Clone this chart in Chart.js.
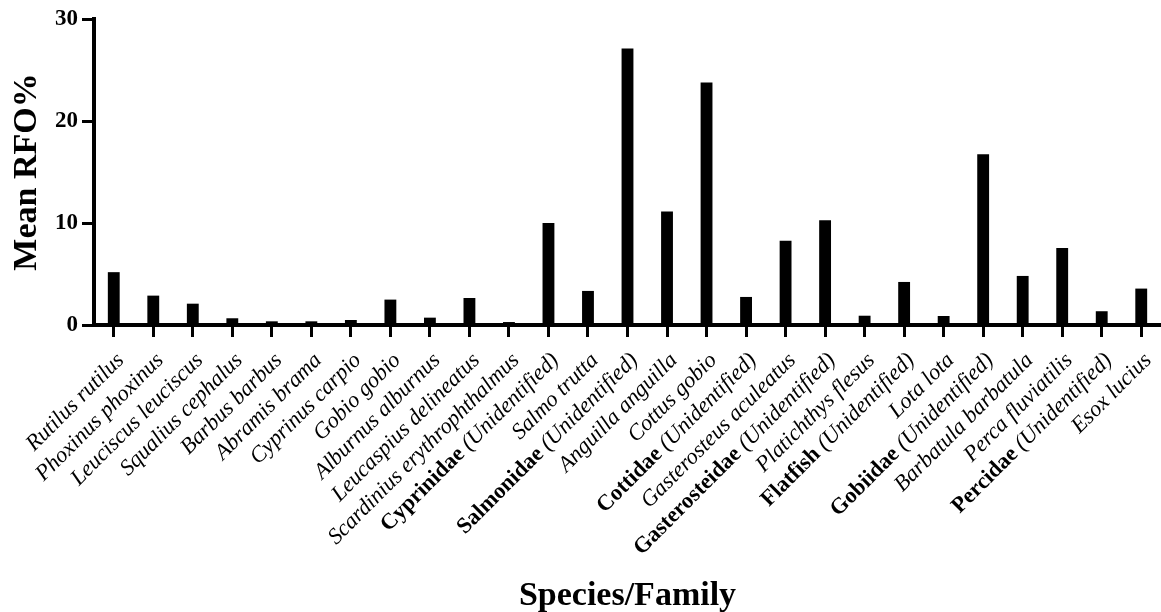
<!DOCTYPE html>
<html>
<head>
<meta charset="utf-8">
<script src="https://cdn.jsdelivr.net/npm/chart.js@4.4.1/dist/chart.umd.min.js"></script>
<style>
  html, body { margin: 0; padding: 0; background: #fff; }
  #wrap { width: 1161px; height: 612px; }
</style>
</head>
<body>
<div id="wrap"><canvas id="grafico" width="1161" height="612"></canvas></div>
<script>
// ========================= DADOS =========================
const categories = [
    'Rutilus rutilus', 'Phoxinus phoxinus', 'Leuciscus leuciscus', 'Squalius cephalus',
    'Barbus barbus', 'Abramis brama', 'Cyprinus carpio', 'Gobio gobio',
    'Alburnus alburnus', 'Leucaspius delineatus', 'Scardinius erythrophthalmus',
    'Cyprinidae (Unidentified)', 'Salmo trutta', 'Salmonidae (Unidentified)',
    'Anguilla anguilla', 'Cottus gobio', 'Cottidae (Unidentified)',
    'Gasterosteus aculeatus', 'Gasterosteidae (Unidentified)', 'Platichthys flesus',
    'Flatfish (Unidentified)', 'Lota lota', 'Gobiidae (Unidentified)',
    'Barbatula barbatula', 'Perca fluviatilis', 'Percidae (Unidentified)', 'Esox lucius'
];

const meanRFO = [
    5.18, 2.88, 2.09, 0.66, 0.36, 0.36, 0.49, 2.49,
    0.72, 2.65, 0.29, 9.99, 3.34, 27.1, 11.13, 23.77,
    2.75, 8.25, 10.28, 0.91, 4.22, 0.88, 16.73, 4.81,
    7.56, 1.35, 3.57
];

const yTicks = [0, 10, 20, 30];
const unidentifiedSuffix = ' (Unidentified)';

// ========================= ESTILO =========================
const serif = "'Liberation Serif', 'Times New Roman', Times, serif";
const labelSize = 22.5;
const labelAngle = 45;

// família em negrito, resto em itálico
function partesDoRotulo(nome) {
    if (nome.endsWith(unidentifiedSuffix)) {
        return [
            { text: nome.slice(0, -unidentifiedSuffix.length), font: `bold ${labelSize}px ${serif}` },
            { text: unidentifiedSuffix, font: `italic ${labelSize}px ${serif}` }
        ];
    }
    return [{ text: nome, font: `italic ${labelSize}px ${serif}` }];
}

// ========================= RÓTULOS DO EIXO X =========================
const rotulosEspecies = {
    id: 'rotulosEspecies',
    afterDraw(chart) {
        const ctx = chart.ctx;
        const xScale = chart.scales.x;
        const base = chart.chartArea.bottom;
        ctx.save();
        ctx.fillStyle = '#000';
        ctx.textBaseline = 'middle';
        ctx.textAlign = 'left';
        categories.forEach((nome, i) => {
            const partes = partesDoRotulo(nome);
            let total = 0;
            partes.forEach(p => {
                ctx.font = p.font;
                p.w = ctx.measureText(p.text).width;
                total += p.w;
            });
            ctx.save();
            ctx.translate(xScale.getPixelForValue(i) + 7, base + 32);
            ctx.rotate(-labelAngle * Math.PI / 180);
            let pos = -total;
            partes.forEach(p => {
                ctx.font = p.font;
                ctx.fillText(p.text, pos, 0);
                pos += p.w;
            });
            ctx.restore();
        });
        ctx.restore();
    }
};

// ========================= GRÁFICO =========================
document.addEventListener('DOMContentLoaded', function() {
    const ctx = document.getElementById('grafico');

    new Chart(ctx, {
        type: 'bar',
        data: {
            labels: categories,
            datasets: [{
                data: meanRFO,
                backgroundColor: '#000',
                borderWidth: 0,
                barPercentage: 0.3,
                categoryPercentage: 1
            }]
        },
        options: {
            responsive: false,
            animation: false,
            devicePixelRatio: 1,
            layout: {
                padding: { top: 19, right: 0, left: 0, bottom: 0 }
            },
            plugins: {
                legend: { display: false },
                tooltip: { enabled: false }
            },
            scales: {
                x: {
                    offset: true,
                    afterFit: function(scale) { scale.height = 287; },
                    grid: {
                        display: true,
                        offset: false,
                        drawOnChartArea: false,
                        drawTicks: true,
                        tickLength: 12,
                        tickWidth: 3,
                        color: '#000'
                    },
                    border: { display: true, color: '#000', width: 4 },
                    ticks: { display: false },
                    title: {
                        display: true,
                        text: 'Species/Family',
                        color: '#000',
                        font: { family: serif, size: 34, weight: 'bold', lineHeight: 1 },
                        padding: { top: 0, bottom: -1 }
                    }
                },
                y: {
                    min: 0,
                    max: 30,
                    afterFit: function(scale) { scale.width = 94; },
                    afterBuildTicks: function(scale) {
                        scale.ticks = yTicks.map(v => ({ value: v }));
                    },
                    grid: {
                        display: true,
                        drawOnChartArea: false,
                        drawTicks: true,
                        tickLength: 12,
                        tickWidth: 3,
                        color: '#000'
                    },
                    border: { display: true, color: '#000', width: 4 },
                    ticks: {
                        color: '#000',
                        padding: 4,
                        font: { family: serif, size: 23, weight: 'bold' }
                    },
                    title: {
                        display: true,
                        text: 'Mean RFO%',
                        color: '#000',
                        font: { family: serif, size: 34, weight: 'bold', lineHeight: 1 },
                        padding: { top: 10, bottom: 0 }
                    }
                }
            }
        },
        plugins: [rotulosEspecies]
    });
});
</script>
</body>
</html>
